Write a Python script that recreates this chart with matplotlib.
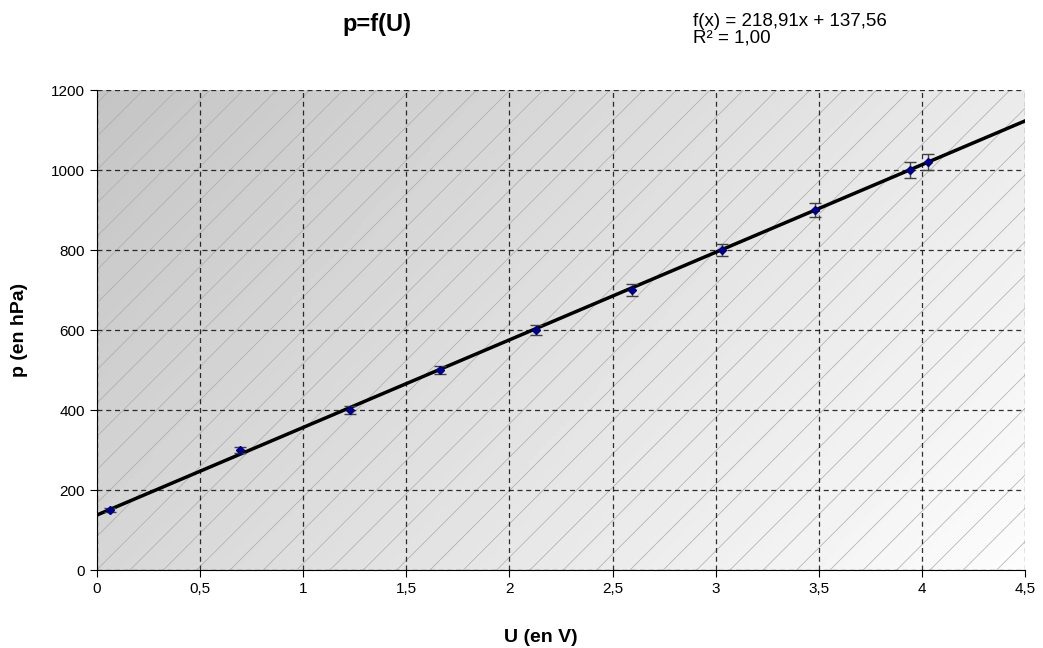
import numpy as np
import matplotlib
matplotlib.use("Agg")
import matplotlib.pyplot as plt
from matplotlib.patches import Rectangle

plt.rcParams['font.family'] = ['Liberation Sans', 'DejaVu Sans']
plt.rcParams['hatch.linewidth'] = 0.5

# mesures
U = [0.063, 0.693, 1.227, 1.663, 2.129, 2.594, 3.031, 3.482, 3.943, 4.03]
p = [150, 300, 400, 500, 600, 700, 800, 900, 1000, 1020]
err_p = [6, 8, 9, 10, 12, 14, 15, 17, 20, 20]

# regression lineaire
a = 218.91
b = 137.56
x_fit = [0, 4.5]

xticks = [0, 0.5, 1, 1.5, 2, 2.5, 3, 3.5, 4, 4.5]
xticklabels = ['0', '0,5', '1', '1,5', '2', '2,5', '3', '3,5', '4', '4,5']
yticks = [0, 200, 400, 600, 800, 1000, 1200]

fig = plt.figure(figsize=(10.43, 6.48), dpi=100)
ax = fig.add_axes([97/1043, 78/648, 928/1043, 480/648])

# fond en degrade
nx, ny = 200, 100
gx, gy = np.meshgrid(np.linspace(0, 1, nx), np.linspace(0, 1, ny))
grad = 0.77 + 0.15 * gx + 0.07 * gy
ax.imshow(grad, cmap='gray', vmin=0, vmax=1, extent=[0, 4.5, 0, 1200],
          aspect='auto', origin='upper', zorder=0)
ax.add_patch(Rectangle((0, 0), 4.5, 1200, fill=False, hatch='/',
                       edgecolor='#ababab', linewidth=0, zorder=0.5))

ax.grid(True, color='black', linestyle=(0, (4, 3)), linewidth=0.9, alpha=0.8)
ax.set_axisbelow(True)

y_fit = [a * x + b for x in x_fit]
ax.plot(x_fit, y_fit, color='black', linewidth=2.5, zorder=3)
ax.errorbar(U, p, yerr=err_p, fmt='D', color='#000080', markersize=4,
            ecolor='#404040', elinewidth=1, capsize=4, zorder=4)

ax.set_xlim(0, 4.5)
ax.set_ylim(0, 1200)
ax.set_xticks(xticks)
ax.set_xticklabels(xticklabels)
ax.set_yticks(yticks)
ax.tick_params(direction='out', length=5, labelsize=11)
ax.spines['top'].set_visible(False)
ax.spines['right'].set_visible(False)

ax.set_xlabel('U (en V)', fontsize=14, fontweight='bold')
ax.set_ylabel('p (en hPa)', fontsize=14, fontweight='bold')
ax.xaxis.set_label_coords((541 - 97) / 928, -(638 - 570) / 480)
ax.yaxis.set_label_coords(-(97 - 20) / 928, 0.5)
ax.xaxis.label.set_va('center')
ax.yaxis.label.set_va('center')

fig.text(377/1043, 1 - 24/648, 'p=f(U)', fontsize=17, fontweight='bold',
         ha='center', va='center')
fig.text(693/1043, 1 - 30/648, 'f(x) = 218,91x + 137,56\nR² = 1,00',
         fontsize=13.5, ha='left', va='center', linespacing=0.95)

fig.savefig('out.png', dpi=100)
